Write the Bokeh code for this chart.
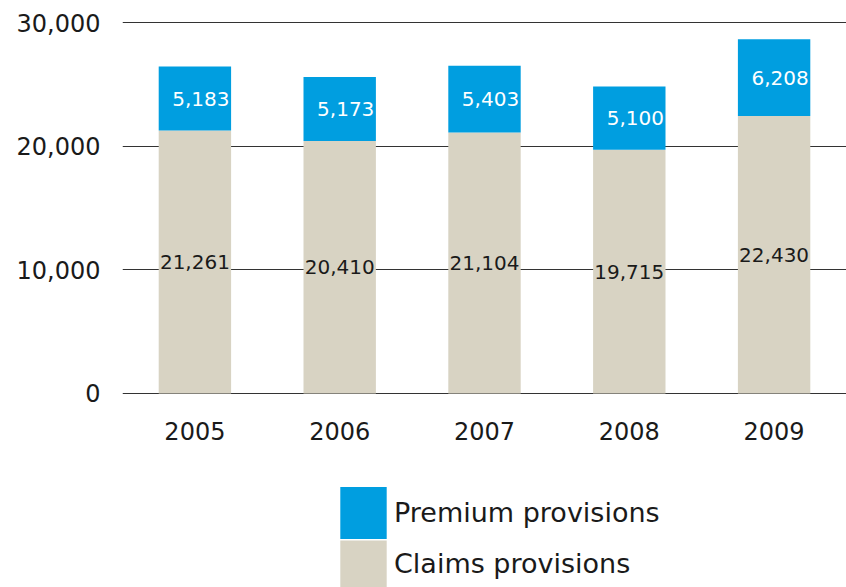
from bokeh.plotting import figure
from bokeh.models import ColumnDataSource, FactorRange, Legend, LegendItem, FixedTicker, NumeralTickFormatter
from bokeh.core.properties import value
from bokeh.embed import file_html
from bokeh.resources import INLINE

years = ["2005", "2006", "2007", "2008", "2009"]
claims = [21261, 20410, 21104, 19715, 22430]
premium = [5183, 5173, 5403, 5100, 6208]
y_ticks = [0, 10000, 20000, 30000]

BLUE = "#009ee0"
BEIGE = "#d8d3c3"
FONT = "DejaVu Sans"

src = ColumnDataSource(dict(
    year=years,
    claims=claims,
    premium=premium,
    total=[c + p for c, p in zip(claims, premium)],
    claims_mid=[c / 2 for c in claims],
    prem_mid=[c + p / 2 for c, p in zip(claims, premium)],
    claims_lbl=[f"{c:,}" for c in claims],
    prem_lbl=[f"{p:,}" for p in premium],
))

# frame spans the full height; value 0 sits at y=393, 30,000 at y=22
p = figure(x_range=FactorRange(factors=years, range_padding=0),
           y_range=(-15688, 30081), width=846, height=587,
           output_backend="svg", toolbar_location=None,
           min_border_left=122, min_border_right=0,
           min_border_top=21, min_border_bottom=0)
p.outline_line_color = None
p.background_fill_color = "white"
p.border_fill_color = "white"

r_claims = p.vbar(x="year", bottom=0, top="claims", width=0.5, source=src,
                  fill_color=BEIGE, line_color=None)
r_prem = p.vbar(x="year", bottom="claims", top="total", width=0.5, source=src,
                fill_color=BLUE, line_color=None)

p.text(x="year", y="claims_mid", text="claims_lbl", source=src,
       text_font=value(FONT), text_font_size="20px", text_color="#1a1a1a",
       text_align="center", text_baseline="middle")
p.text(x="year", y="prem_mid", text="prem_lbl", source=src,
       text_font=value(FONT), text_font_size="20px", text_color="white",
       text_align="center", text_baseline="middle", x_offset=6)

p.yaxis.ticker = FixedTicker(ticks=y_ticks)
p.yaxis.formatter = NumeralTickFormatter(format="0,0")
p.ygrid.ticker = FixedTicker(ticks=y_ticks)
p.ygrid.grid_line_color = "#333333"
p.ygrid.grid_line_width = 1
p.xgrid.grid_line_color = None

for ax in (p.xaxis, p.yaxis):
    ax.axis_line_color = None
    ax.major_tick_line_color = None
    ax.minor_tick_line_color = None
    ax.major_tick_out = 0
    ax.major_tick_in = 0
    ax.major_label_text_font = FONT
    ax.major_label_text_font_size = "24px"
    ax.major_label_text_color = "#1a1a1a"
p.yaxis.major_label_standoff = 22
p.xaxis.major_label_standoff = 29
p.xaxis.fixed_location = 0

common = dict(orientation="vertical", glyph_width=58,
              spacing=0, padding=0, margin=0, label_standoff=2,
              label_text_font=FONT, label_text_font_size="27px",
              label_text_color="#1a1a1a", border_line_color=None,
              background_fill_alpha=0, label_height=40)

legend_prem = Legend(items=[LegendItem(label="Premium provisions", renderers=[r_prem])],
                     location=(212, 42), glyph_height=65, **common)
legend_claims = Legend(items=[LegendItem(label="Claims provisions", renderers=[r_claims])],
                       location=(212, -6), glyph_height=59, **common)
p.add_layout(legend_prem, "center")
p.add_layout(legend_claims, "center")

open("out.html", "w").write(file_html(p, INLINE))
